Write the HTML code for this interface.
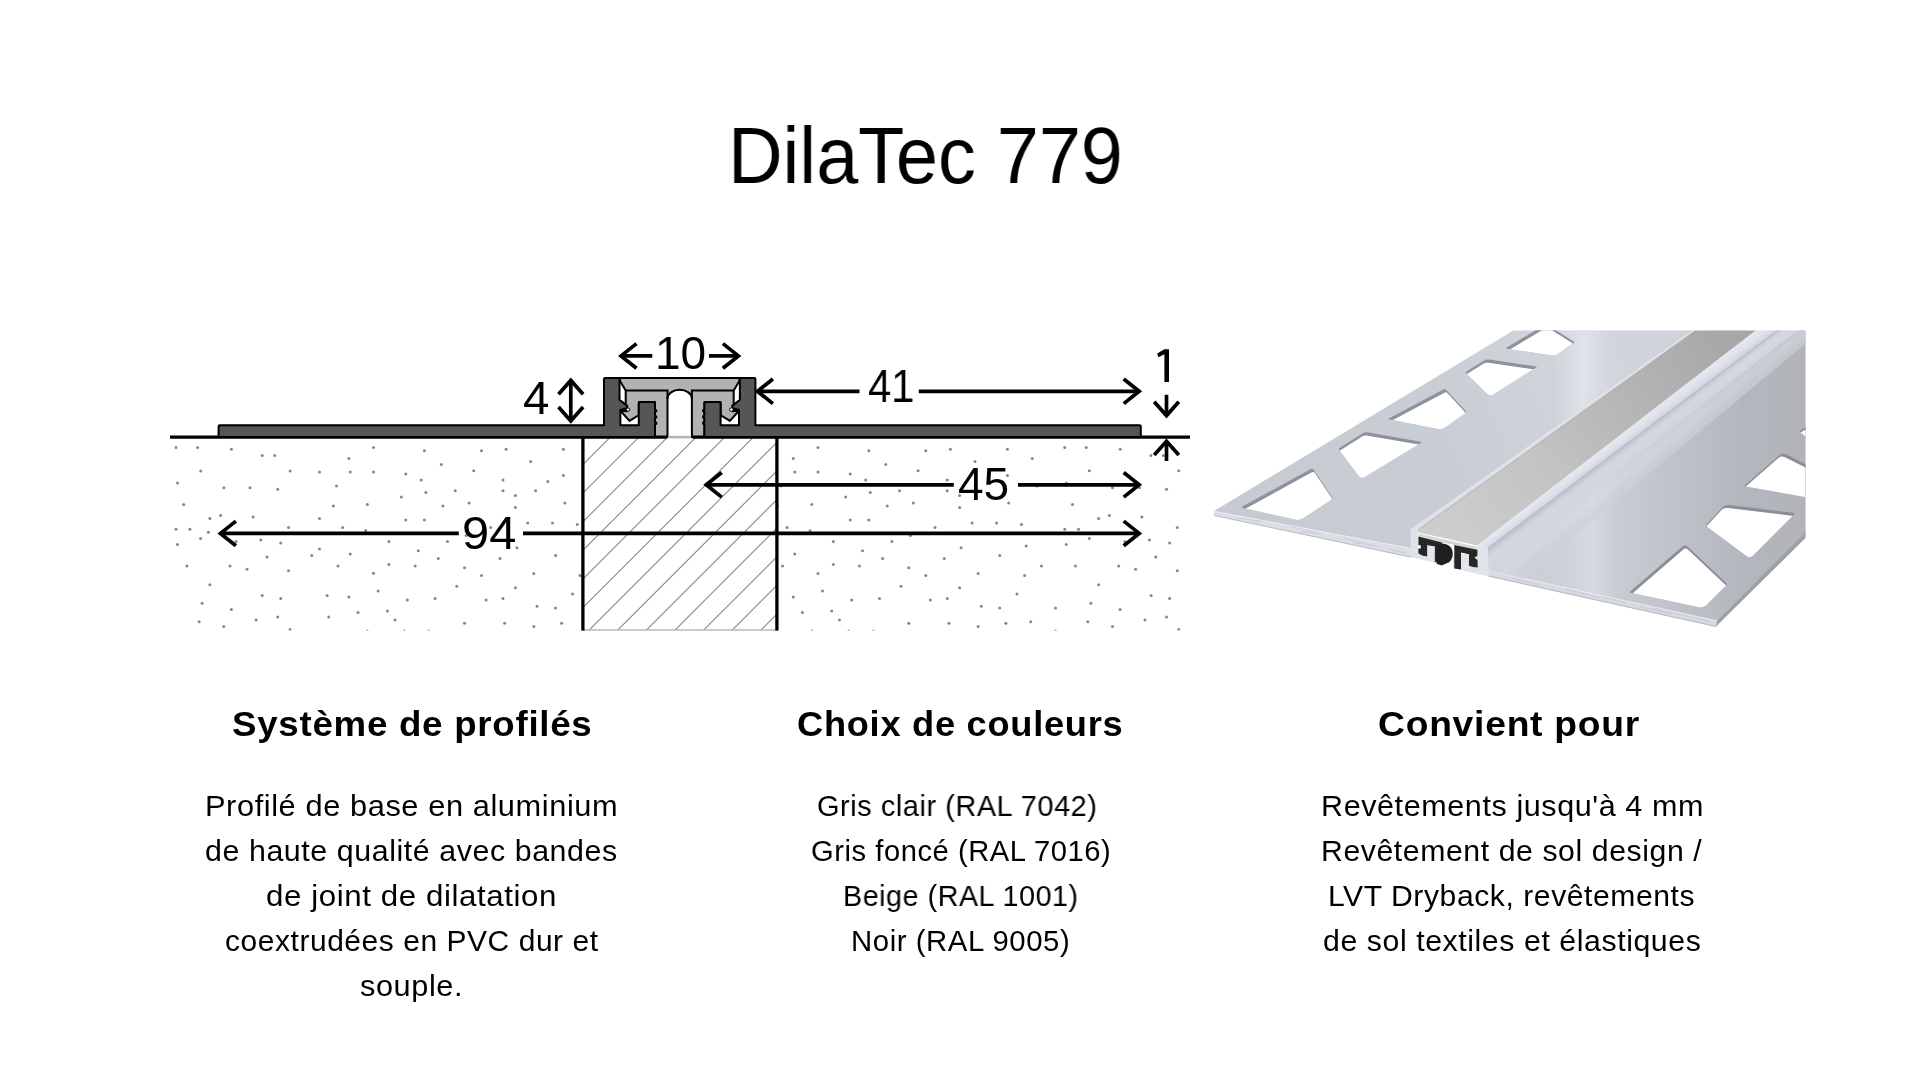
<!DOCTYPE html>
<html lang="fr"><head><meta charset="utf-8">
<title>DilaTec 779</title>
<style>
html,body{margin:0;padding:0;background:#fff;}
body{width:1920px;height:1080px;position:relative;overflow:hidden;
 font-family:"Liberation Sans",sans-serif;color:#000;}
svg.gfx{position:absolute;left:0;top:0;width:1920px;height:1080px;display:block;}

.t{position:absolute;white-space:nowrap;line-height:1;transform-origin:0 0;margin:0;font-weight:400;letter-spacing:0.55px;will-change:transform;}
.b{font-weight:700;letter-spacing:0.7px;}
#title,.d{letter-spacing:0;}
</style></head><body>
<svg class="gfx" viewBox="0 0 1920 1080" font-family="Liberation Sans, sans-serif">
<g id="drawing">
<clipPath id="dc"><rect x="160" y="438" width="1040" height="192.6"/></clipPath>
<g clip-path="url(#dc)" fill="#878787"><circle cx="176" cy="447.62" r="1.5"/><circle cx="197.62" cy="447.62" r="1.5"/><circle cx="231.38" cy="449.25" r="1.5"/><circle cx="262.25" cy="455.38" r="1.5"/><circle cx="274.75" cy="455.38" r="1.5"/><circle cx="373.5" cy="447.62" r="1.5"/><circle cx="348.88" cy="458.38" r="1.5"/><circle cx="200.75" cy="470.88" r="1.5"/><circle cx="290.12" cy="470.88" r="1.5"/><circle cx="319.5" cy="472.12" r="1.5"/><circle cx="350.25" cy="472.12" r="1.5"/><circle cx="373.5" cy="472.12" r="1.5"/><circle cx="405.75" cy="473.88" r="1.5"/><circle cx="177.5" cy="483.12" r="1.5"/><circle cx="223.88" cy="487.75" r="1.5"/><circle cx="250" cy="487.75" r="1.5"/><circle cx="277.75" cy="489.25" r="1.5"/><circle cx="336.5" cy="486.12" r="1.5"/><circle cx="401.38" cy="496.88" r="1.5"/><circle cx="183.62" cy="504.62" r="1.5"/><circle cx="333.38" cy="506.12" r="1.5"/><circle cx="367.38" cy="504.62" r="1.5"/><circle cx="220.62" cy="515.38" r="1.5"/><circle cx="209.88" cy="518.38" r="1.5"/><circle cx="253.12" cy="516.88" r="1.5"/><circle cx="319.5" cy="518.38" r="1.5"/><circle cx="405.75" cy="520" r="1.5"/><circle cx="176" cy="529.25" r="1.5"/><circle cx="189.88" cy="529.25" r="1.5"/><circle cx="208.38" cy="532.25" r="1.5"/><circle cx="288.5" cy="527.62" r="1.5"/><circle cx="342.62" cy="527.62" r="1.5"/><circle cx="365.75" cy="530.5" r="1.5"/><circle cx="200.62" cy="538.5" r="1.5"/><circle cx="177.5" cy="544.62" r="1.5"/><circle cx="236.12" cy="541.5" r="1.5"/><circle cx="260.75" cy="540" r="1.5"/><circle cx="280.75" cy="543.12" r="1.5"/><circle cx="388.88" cy="541.5" r="1.5"/><circle cx="319.5" cy="549.12" r="1.5"/><circle cx="311.75" cy="555.38" r="1.5"/><circle cx="267" cy="556.88" r="1.5"/><circle cx="350.25" cy="553.88" r="1.5"/><circle cx="186.88" cy="566.12" r="1.5"/><circle cx="230" cy="566.12" r="1.5"/><circle cx="247" cy="569.25" r="1.5"/><circle cx="288.5" cy="570.75" r="1.5"/><circle cx="338" cy="566.12" r="1.5"/><circle cx="388.88" cy="564.62" r="1.5"/><circle cx="373.5" cy="573.31" r="1.5"/><circle cx="424.38" cy="450.75" r="1.5"/><circle cx="481.5" cy="450.75" r="1.5"/><circle cx="506.12" cy="449.25" r="1.5"/><circle cx="563.38" cy="449.25" r="1.5"/><circle cx="441.38" cy="464.62" r="1.5"/><circle cx="530.75" cy="461.5" r="1.5"/><circle cx="473.75" cy="470.75" r="1.5"/><circle cx="563.38" cy="475.38" r="1.5"/><circle cx="421.25" cy="480" r="1.5"/><circle cx="503" cy="480" r="1.5"/><circle cx="547.88" cy="481.5" r="1.5"/><circle cx="425.88" cy="492.38" r="1.5"/><circle cx="455.25" cy="490.75" r="1.5"/><circle cx="503" cy="490.75" r="1.5"/><circle cx="535.62" cy="490.75" r="1.5"/><circle cx="515.38" cy="495.38" r="1.5"/><circle cx="469.12" cy="503.12" r="1.5"/><circle cx="564.88" cy="503.12" r="1.5"/><circle cx="442.88" cy="506.12" r="1.5"/><circle cx="515.38" cy="507.62" r="1.5"/><circle cx="424.38" cy="520" r="1.5"/><circle cx="527.75" cy="523.12" r="1.5"/><circle cx="552.5" cy="523.12" r="1.5"/><circle cx="577.25" cy="524.62" r="1.5"/><circle cx="490.75" cy="527.62" r="1.5"/><circle cx="466.12" cy="535.38" r="1.5"/><circle cx="447.5" cy="541.5" r="1.5"/><circle cx="516.88" cy="547.75" r="1.5"/><circle cx="418.25" cy="550.75" r="1.5"/><circle cx="555.62" cy="555.38" r="1.5"/><circle cx="438.25" cy="558.5" r="1.5"/><circle cx="500" cy="558.5" r="1.5"/><circle cx="415.12" cy="566.12" r="1.5"/><circle cx="464.5" cy="567.75" r="1.5"/><circle cx="533.81" cy="573.5" r="1.5"/><circle cx="209.88" cy="584.75" r="1.5"/><circle cx="378.12" cy="590.88" r="1.5"/><circle cx="262.25" cy="595.5" r="1.5"/><circle cx="327.12" cy="595.5" r="1.5"/><circle cx="280.75" cy="598.62" r="1.5"/><circle cx="348.88" cy="597" r="1.5"/><circle cx="407.38" cy="600.12" r="1.5"/><circle cx="202.12" cy="603.25" r="1.5"/><circle cx="231.38" cy="609.38" r="1.5"/><circle cx="387.38" cy="610.88" r="1.5"/><circle cx="358" cy="612.5" r="1.5"/><circle cx="277.75" cy="617.12" r="1.5"/><circle cx="328.75" cy="617.12" r="1.5"/><circle cx="256.12" cy="620.12" r="1.5"/><circle cx="395" cy="620.12" r="1.5"/><circle cx="199.12" cy="621.75" r="1.5"/><circle cx="223.75" cy="626.38" r="1.5"/><circle cx="290" cy="629.38" r="1.5"/><circle cx="367.25" cy="631" r="1.5"/><circle cx="404.38" cy="631" r="1.5"/><circle cx="481.5" cy="575.5" r="1.5"/><circle cx="580" cy="575.5" r="1.5"/><circle cx="456.75" cy="586.25" r="1.5"/><circle cx="515.38" cy="587.75" r="1.5"/><circle cx="572.5" cy="594" r="1.5"/><circle cx="435.12" cy="598.62" r="1.5"/><circle cx="486.12" cy="600.12" r="1.5"/><circle cx="503" cy="598.62" r="1.5"/><circle cx="537" cy="606.25" r="1.5"/><circle cx="555.5" cy="607.88" r="1.5"/><circle cx="464.5" cy="623.25" r="1.5"/><circle cx="504.62" cy="623.25" r="1.5"/><circle cx="561.62" cy="623.25" r="1.5"/><circle cx="533.88" cy="626.38" r="1.5"/><circle cx="428.75" cy="631" r="1.5"/><circle cx="818" cy="447.62" r="1.5"/><circle cx="868.75" cy="450.75" r="1.5"/><circle cx="925.75" cy="450.75" r="1.5"/><circle cx="950.38" cy="449.25" r="1.5"/><circle cx="1007.38" cy="449.25" r="1.5"/><circle cx="793.25" cy="458.38" r="1.5"/><circle cx="975" cy="461.5" r="1.5"/><circle cx="885.75" cy="464.62" r="1.5"/><circle cx="918.12" cy="470.75" r="1.5"/><circle cx="794.75" cy="472.12" r="1.5"/><circle cx="818" cy="472.12" r="1.5"/><circle cx="850.25" cy="473.88" r="1.5"/><circle cx="1007.38" cy="475.38" r="1.5"/><circle cx="865.62" cy="480" r="1.5"/><circle cx="947.25" cy="480" r="1.5"/><circle cx="781" cy="486.12" r="1.5"/><circle cx="899.5" cy="490.75" r="1.5"/><circle cx="947.25" cy="490.75" r="1.5"/><circle cx="870.25" cy="492.38" r="1.5"/><circle cx="845.62" cy="496.88" r="1.5"/><circle cx="959.62" cy="495.38" r="1.5"/><circle cx="913.38" cy="503.12" r="1.5"/><circle cx="1008.69" cy="503.12" r="1.5"/><circle cx="811.75" cy="504.62" r="1.5"/><circle cx="777.5" cy="506.12" r="1.5"/><circle cx="887.25" cy="506.12" r="1.5"/><circle cx="959.62" cy="507.62" r="1.5"/><circle cx="850.25" cy="520" r="1.5"/><circle cx="868.75" cy="520" r="1.5"/><circle cx="972.12" cy="523.12" r="1.5"/><circle cx="996.62" cy="523.12" r="1.5"/><circle cx="787.12" cy="527.62" r="1.5"/><circle cx="935" cy="527.62" r="1.5"/><circle cx="810.12" cy="530.75" r="1.5"/><circle cx="910.38" cy="535.38" r="1.5"/><circle cx="833.38" cy="541.5" r="1.5"/><circle cx="891.88" cy="541.5" r="1.5"/><circle cx="961.12" cy="547.75" r="1.5"/><circle cx="862.5" cy="550.75" r="1.5"/><circle cx="794.75" cy="553.88" r="1.5"/><circle cx="999.75" cy="555.38" r="1.5"/><circle cx="882.62" cy="558.5" r="1.5"/><circle cx="944.25" cy="558.5" r="1.5"/><circle cx="833.38" cy="564.62" r="1.5"/><circle cx="782.5" cy="566.12" r="1.5"/><circle cx="859.5" cy="566.12" r="1.5"/><circle cx="908.75" cy="567.75" r="1.5"/><circle cx="818" cy="573.5" r="1.5"/><circle cx="978.12" cy="573.5" r="1.5"/><circle cx="1064.75" cy="447.62" r="1.5"/><circle cx="1086.25" cy="447.62" r="1.5"/><circle cx="1120.25" cy="449.25" r="1.5"/><circle cx="1032.25" cy="458.38" r="1.5"/><circle cx="1151" cy="455.38" r="1.5"/><circle cx="1163.38" cy="455.38" r="1.5"/><circle cx="1089.38" cy="470.75" r="1.5"/><circle cx="1178.75" cy="470.75" r="1.5"/><circle cx="1066.25" cy="483" r="1.5"/><circle cx="1036.88" cy="486.12" r="1.5"/><circle cx="1112.5" cy="487.75" r="1.5"/><circle cx="1139.5" cy="487.75" r="1.5"/><circle cx="1166.5" cy="489.25" r="1.5"/><circle cx="1072.5" cy="504.62" r="1.5"/><circle cx="1109.38" cy="515.38" r="1.5"/><circle cx="1098.62" cy="518.38" r="1.5"/><circle cx="1141.88" cy="516.88" r="1.5"/><circle cx="1021.5" cy="524.62" r="1.5"/><circle cx="1064.75" cy="529.25" r="1.5"/><circle cx="1078.5" cy="529.25" r="1.5"/><circle cx="1177.25" cy="527.62" r="1.5"/><circle cx="1089.38" cy="538.5" r="1.5"/><circle cx="1149.5" cy="540" r="1.5"/><circle cx="1124.88" cy="541.5" r="1.5"/><circle cx="1169.62" cy="543.12" r="1.5"/><circle cx="1026.12" cy="546.12" r="1.5"/><circle cx="1066.25" cy="544.62" r="1.5"/><circle cx="1155.75" cy="556.88" r="1.5"/><circle cx="1041.5" cy="566.12" r="1.5"/><circle cx="1075.5" cy="566.12" r="1.5"/><circle cx="1118.75" cy="566.12" r="1.5"/><circle cx="1135.62" cy="569.25" r="1.5"/><circle cx="1177.25" cy="570.75" r="1.5"/><circle cx="925.75" cy="575.5" r="1.5"/><circle cx="901" cy="586.25" r="1.5"/><circle cx="959.62" cy="587.75" r="1.5"/><circle cx="822.5" cy="590.88" r="1.5"/><circle cx="793.25" cy="597" r="1.5"/><circle cx="851.75" cy="600.12" r="1.5"/><circle cx="879.5" cy="598.62" r="1.5"/><circle cx="930.38" cy="600.12" r="1.5"/><circle cx="947.25" cy="598.62" r="1.5"/><circle cx="981.25" cy="606.25" r="1.5"/><circle cx="999.75" cy="607.88" r="1.5"/><circle cx="802.38" cy="612.5" r="1.5"/><circle cx="831.75" cy="610.88" r="1.5"/><circle cx="839.5" cy="620.12" r="1.5"/><circle cx="908.75" cy="623.25" r="1.5"/><circle cx="948.88" cy="623.25" r="1.5"/><circle cx="1005.88" cy="623.25" r="1.5"/><circle cx="978.12" cy="626.38" r="1.5"/><circle cx="811.75" cy="631" r="1.5"/><circle cx="848.75" cy="631" r="1.5"/><circle cx="873.38" cy="631" r="1.5"/><circle cx="1024.62" cy="575.5" r="1.5"/><circle cx="1098.62" cy="584.75" r="1.5"/><circle cx="1017" cy="594" r="1.5"/><circle cx="1151.12" cy="595.5" r="1.5"/><circle cx="1169.62" cy="598.62" r="1.5"/><circle cx="1090.88" cy="603.25" r="1.5"/><circle cx="1055.5" cy="607.88" r="1.5"/><circle cx="1120.12" cy="609.38" r="1.5"/><circle cx="1166.5" cy="617.12" r="1.5"/><circle cx="1145" cy="620.12" r="1.5"/><circle cx="1030.75" cy="621.75" r="1.5"/><circle cx="1087.75" cy="621.75" r="1.5"/><circle cx="1112.5" cy="626.38" r="1.5"/><circle cx="1178.75" cy="629.38" r="1.5"/><circle cx="1055.5" cy="631" r="1.5"/></g>
<clipPath id="jc"><rect x="582.9" y="437.1" width="194" height="192.9"/></clipPath>
<g clip-path="url(#jc)" stroke="#858585" stroke-width="1.05"><line x1="347.4" y1="700" x2="647.4" y2="400"/><line x1="376.03" y1="700" x2="676.03" y2="400"/><line x1="404.66" y1="700" x2="704.66" y2="400"/><line x1="433.29" y1="700" x2="733.29" y2="400"/><line x1="461.92" y1="700" x2="761.92" y2="400"/><line x1="490.55" y1="700" x2="790.55" y2="400"/><line x1="519.18" y1="700" x2="819.18" y2="400"/><line x1="547.81" y1="700" x2="847.81" y2="400"/><line x1="576.44" y1="700" x2="876.44" y2="400"/><line x1="605.07" y1="700" x2="905.07" y2="400"/><line x1="633.7" y1="700" x2="933.7" y2="400"/><line x1="662.33" y1="700" x2="962.33" y2="400"/><line x1="690.96" y1="700" x2="990.96" y2="400"/></g>
<line x1="582.9" y1="630" x2="776.9" y2="630" stroke="#b8b8b8" stroke-width="1.3"/>
<g stroke="#000" stroke-width="3.3"><line x1="582.9" y1="437.1" x2="582.9" y2="630.6"/><line x1="776.9" y1="437.1" x2="776.9" y2="630.6"/></g>
<path d="M679.7,377.9 L619.6,377.9 L620.2,381.2 L625.7,390.4 L625.7,405 L626.6,411.3 L620.2,410.5 L629.5,420.9 L638.8,415.2 L638.8,401.9 L655,401.9 L655,436.9 L667.5,436.9 L667.5,398.4 A12.2,8.6 0 0 1 691.9,398.4 L691.9,436.9 L704.4,436.9 L704.4,401.9 L720.6,401.9 L720.6,415.2 L729.9,420.9 L739.2,410.5 L732.8,411.3 L733.7,405 L733.7,390.4 L739.2,381.2 L739.8,377.9 Z" fill="#b2b2b2" stroke="#000" stroke-width="2" stroke-linejoin="round"/>
<path d="M625.7,390.4 H667.5 V399 M733.7,390.4 H691.9 V399" stroke="#000" stroke-width="2" fill="none" stroke-linejoin="miter"/>
<line x1="668.6" y1="437.1" x2="690.8" y2="437.1" stroke="#b4b4b4" stroke-width="2.6"/>
<path d="M170,437.1 H667 M692.4,437.1 H1190" stroke="#000" stroke-width="3.3" fill="none"/>
<g fill="#565656" stroke="#000" stroke-width="2" stroke-linejoin="round">
<path d="M218.6,437 L218.6,426.3 Q218.6,425.2 219.7,425.2 L604,425.2 L604,379 Q604,377.9 605.1,377.9 L619.5,377.9 L619.5,399.7 L627.3,405.9 L626.2,408.6 L620.4,409.9 L620.4,425.2 L638.8,425.2 L638.8,404.2 Q638.8,401.9 641.1,401.9 L652.7,401.9 Q655,401.9 655,404.2 L655,409.6 l1.3,0.5 v1.2 l-1.3,0.5 L655,415.9 l1.3,0.5 v1.2 l-1.3,0.5 L655,422.2 l1.3,0.5 v1.2 l-1.3,0.5 L655,437 Z"/>
<path d="M218.6,437 L218.6,426.3 Q218.6,425.2 219.7,425.2 L604,425.2 L604,379 Q604,377.9 605.1,377.9 L619.5,377.9 L619.5,399.7 L627.3,405.9 L626.2,408.6 L620.4,409.9 L620.4,425.2 L638.8,425.2 L638.8,404.2 Q638.8,401.9 641.1,401.9 L652.7,401.9 Q655,401.9 655,404.2 L655,409.6 l1.3,0.5 v1.2 l-1.3,0.5 L655,415.9 l1.3,0.5 v1.2 l-1.3,0.5 L655,422.2 l1.3,0.5 v1.2 l-1.3,0.5 L655,437 Z" transform="translate(1359.4,0) scale(-1,1)"/>
</g>
<g fill="#fff" stroke="#000" stroke-width="1"><circle cx="628" cy="409.6" r="1.75"/><circle cx="731.4" cy="409.6" r="1.75"/></g>
<g fill="none" stroke="#000" stroke-width="3.7" stroke-linejoin="miter" stroke-miterlimit="6">
<line x1="220.3" y1="533.4" x2="458.8" y2="533.4"/><line x1="523" y1="533.4" x2="1139.3" y2="533.4"/><polyline points="235.9,521.1 220.4,533.4 235.9,545.7"/><polyline points="1123.7,521.1 1139.2,533.4 1123.7,545.7"/>
<line x1="706.1" y1="484.8" x2="953.8" y2="484.8"/><line x1="1018" y1="484.8" x2="1139.3" y2="484.8"/><polyline points="721.7,472.5 706.2,484.8 721.7,497.1"/><polyline points="1123.7,472.5 1139.2,484.8 1123.7,497.1"/>
<line x1="757.3" y1="391.3" x2="859.5" y2="391.3"/><line x1="918.8" y1="391.3" x2="1139.3" y2="391.3"/><polyline points="772.9,379 757.4,391.3 772.9,403.6"/><polyline points="1123.7,379 1139.2,391.3 1123.7,403.6"/>
<line x1="620.9" y1="355.9" x2="652.3" y2="355.9"/><polyline points="636.5,343.6 621,355.9 636.5,368.2"/>
<line x1="709" y1="355.9" x2="738.5" y2="355.9"/><polyline points="722.9,343.6 738.4,355.9 722.9,368.2"/>
<line x1="570.8" y1="380" x2="570.8" y2="421.4"/><polyline points="558.5,394.3 570.8,380.4 583.1,394.3"/><polyline points="558.5,407.1 570.8,421 583.1,407.1"/>
<line x1="1166.5" y1="394.8" x2="1166.5" y2="416"/><polyline points="1154.2,401.7 1166.5,415.6 1178.8,401.7"/>
<line x1="1166.5" y1="440.8" x2="1166.5" y2="461"/><polyline points="1154.2,455.1 1166.5,441.2 1178.8,455.1"/>
</g>
<path d="M1164.4,349.2 H1169 V382 H1164.4 V354.2 L1158.4,357.2 L1157.2,353.6 Z" fill="#000"/>
</g>
<g id="product">
<defs>
<clipPath id="pc"><rect x="1200" y="330.2" width="605.6" height="320"/></clipPath>
<linearGradient id="gLF" gradientUnits="userSpaceOnUse" x1="1250" y1="520" x2="1690" y2="330"><stop offset="0" stop-color="#c6cad1"/><stop offset="0.45" stop-color="#c9cdd4"/><stop offset="0.78" stop-color="#d2d5dc"/><stop offset="1" stop-color="#cfd2d8"/></linearGradient>
<linearGradient id="gStreak" gradientUnits="userSpaceOnUse" x1="1555" y1="0" x2="1612" y2="0"><stop offset="0" stop-color="#e2e5ec" stop-opacity="0"/><stop offset="0.5" stop-color="#e4e7ee" stop-opacity="0.75"/><stop offset="1" stop-color="#e2e5ec" stop-opacity="0"/></linearGradient>
<linearGradient id="gIns" gradientUnits="userSpaceOnUse" x1="1448" y1="538" x2="1726" y2="330"><stop offset="0" stop-color="#cdcdcd"/><stop offset="0.35" stop-color="#c3c3c3"/><stop offset="0.7" stop-color="#b3b3b3"/><stop offset="1" stop-color="#a7a7a7"/></linearGradient>
<linearGradient id="gRF" gradientUnits="userSpaceOnUse" x1="1500" y1="0" x2="1805" y2="0"><stop offset="0" stop-color="#cbced4"/><stop offset="0.2" stop-color="#cdd0d6"/><stop offset="0.30" stop-color="#d6d9df"/><stop offset="0.39" stop-color="#c8cbd1"/><stop offset="0.6" stop-color="#bec1c8"/><stop offset="0.8" stop-color="#b4b6bd"/><stop offset="1" stop-color="#b2b4ba"/></linearGradient>
<linearGradient id="gRidge" gradientUnits="userSpaceOnUse" x1="1560" y1="440" x2="1600" y2="490"><stop offset="0" stop-color="#e0e3ec"/><stop offset="0.55" stop-color="#d3d6e1"/><stop offset="1" stop-color="#bcc0cd"/></linearGradient>
</defs>
<g clip-path="url(#pc)">
<polygon points="1213.75,511.25 1513.75,330.2 1693,330.2 1410.8,529.6 1411,548.5" fill="url(#gLF)"/>
<clipPath id="lfc"><polygon points="1213.75,511.25 1513.75,330.2 1693,330.2 1410.8,529.6 1411,548.5"/></clipPath>
<g clip-path="url(#lfc)"><rect x="1555" y="330.2" width="57" height="120" fill="url(#gStreak)"/></g>
<polygon points="1213.75,511.25 1411,548.5 1411,557.45 1213.9,515.7" fill="#dcdee5"/>
<polyline points="1213.75,511.25 1411,548.5" fill="none" stroke="#e9ebf0" stroke-width="1"/>
<polyline points="1214.2,515.5 1411,557.15" fill="none" stroke="#b4b7c2" stroke-width="0.9"/>
<g stroke="#bfc2cc" stroke-width="1.1" opacity="0.55" fill="none"><path d="M1238,518.2 L1262,521.4 M1290,526.2 L1322,533.8 M1301,531.4 L1318,534.2 M1344,538.4 L1371,545.2 M1352,542.4 L1380,546.4 M1388,548.8 L1406,553.4"/></g>
<clipPath id="hc0"><path d="M1243.04,508.04 Q1240.6,507.5 1242.79,506.3 L1310.75,469.06 Q1312.5,468.1 1313.62,469.76 L1332.26,497.51 Q1333.1,498.75 1331.85,499.58 L1303.76,518.12 Q1300,520.6 1295.61,519.63 Z"/></clipPath><path d="M1243.04,508.04 Q1240.6,507.5 1242.79,506.3 L1310.75,469.06 Q1312.5,468.1 1313.62,469.76 L1332.26,497.51 Q1333.1,498.75 1331.85,499.58 L1303.76,518.12 Q1300,520.6 1295.61,519.63 Z" fill="#8e929e"/><g clip-path="url(#hc0)"><path d="M1243.04,508.04 Q1240.6,507.5 1242.79,506.3 L1310.75,469.06 Q1312.5,468.1 1313.62,469.76 L1332.26,497.51 Q1333.1,498.75 1331.85,499.58 L1303.76,518.12 Q1300,520.6 1295.61,519.63 Z" fill="#fff" transform="translate(1.2,3.2)"/></g>
<clipPath id="hc1"><path d="M1339.31,450.35 Q1338.1,448.75 1339.79,447.69 L1362.03,433.76 Q1365,431.9 1368.45,432.5 L1421.02,441.64 Q1422.5,441.9 1421.22,442.68 L1365.09,477.05 Q1361.25,479.4 1358.54,475.81 Z"/></clipPath><path d="M1339.31,450.35 Q1338.1,448.75 1339.79,447.69 L1362.03,433.76 Q1365,431.9 1368.45,432.5 L1421.02,441.64 Q1422.5,441.9 1421.22,442.68 L1365.09,477.05 Q1361.25,479.4 1358.54,475.81 Z" fill="#8e929e"/><g clip-path="url(#hc1)"><path d="M1339.31,450.35 Q1338.1,448.75 1339.79,447.69 L1362.03,433.76 Q1365,431.9 1368.45,432.5 L1421.02,441.64 Q1422.5,441.9 1421.22,442.68 L1365.09,477.05 Q1361.25,479.4 1358.54,475.81 Z" fill="#fff" transform="translate(-0.6,3.2)"/></g>
<clipPath id="hc2"><path d="M1389.46,419.48 Q1387.5,419.1 1389.27,418.16 L1443.23,389.44 Q1445,388.5 1446.36,389.97 L1465.88,411.15 Q1466.9,412.25 1465.67,413.11 L1445.18,427.46 Q1441.9,429.75 1437.97,428.98 Z"/></clipPath><path d="M1389.46,419.48 Q1387.5,419.1 1389.27,418.16 L1443.23,389.44 Q1445,388.5 1446.36,389.97 L1465.88,411.15 Q1466.9,412.25 1465.67,413.11 L1445.18,427.46 Q1441.9,429.75 1437.97,428.98 Z" fill="#8e929e"/><g clip-path="url(#hc2)"><path d="M1389.46,419.48 Q1387.5,419.1 1389.27,418.16 L1443.23,389.44 Q1445,388.5 1446.36,389.97 L1465.88,411.15 Q1466.9,412.25 1465.67,413.11 L1445.18,427.46 Q1441.9,429.75 1437.97,428.98 Z" fill="#fff" transform="translate(1.2,3.2)"/></g>
<clipPath id="hc3"><path d="M1466.43,373.65 Q1465,372.25 1466.7,371.2 L1483.7,360.68 Q1486.25,359.1 1489.22,359.53 L1536.02,366.38 Q1537.5,366.6 1536.23,367.4 L1493.38,394.46 Q1490,396.6 1487.13,393.81 Z"/></clipPath><path d="M1466.43,373.65 Q1465,372.25 1466.7,371.2 L1483.7,360.68 Q1486.25,359.1 1489.22,359.53 L1536.02,366.38 Q1537.5,366.6 1536.23,367.4 L1493.38,394.46 Q1490,396.6 1487.13,393.81 Z" fill="#8e929e"/><g clip-path="url(#hc3)"><path d="M1466.43,373.65 Q1465,372.25 1466.7,371.2 L1483.7,360.68 Q1486.25,359.1 1489.22,359.53 L1536.02,366.38 Q1537.5,366.6 1536.23,367.4 L1493.38,394.46 Q1490,396.6 1487.13,393.81 Z" fill="#fff" transform="translate(-0.6,3.2)"/></g>
<clipPath id="hc4"><path d="M1506.98,348.8 Q1505,348.5 1506.72,347.47 L1544.28,325.03 Q1546,324 1547.69,325.07 L1573.73,341.45 Q1575,342.25 1573.76,343.1 L1557.88,354.02 Q1555,356 1551.54,355.48 Z"/></clipPath><path d="M1506.98,348.8 Q1505,348.5 1506.72,347.47 L1544.28,325.03 Q1546,324 1547.69,325.07 L1573.73,341.45 Q1575,342.25 1573.76,343.1 L1557.88,354.02 Q1555,356 1551.54,355.48 Z" fill="#8e929e"/><g clip-path="url(#hc4)"><path d="M1506.98,348.8 Q1505,348.5 1506.72,347.47 L1544.28,325.03 Q1546,324 1547.69,325.07 L1573.73,341.45 Q1575,342.25 1573.76,343.1 L1557.88,354.02 Q1555,356 1551.54,355.48 Z" fill="#fff" transform="translate(1.2,3.2)"/></g>
<polygon points="1410.8,529.6 1693,330.2 1696,330.2 1418,530" fill="#dde0e8"/>
<polygon points="1410.8,529.6 1418,530 1418,558.8 1411,557.25" fill="#e0e2ea"/>
<polygon points="1418.5,532.4 1418,530 1696,330.2 1756.5,330.2 1477.5,545.5" fill="url(#gIns)"/>
<polyline points="1418,530 1696,330.2" fill="none" stroke="#9a9a9a" stroke-width="0.8" opacity="0.8"/>
<polyline points="1477.5,545.5 1756.5,330.2" fill="none" stroke="#e6e6e6" stroke-width="1" opacity="0.9"/>
<polygon points="1418.5,533.6 1477.4,547 1477.3,549.7 1454.3,545 1442,542.6 1418.5,536.6" fill="#d6d6d6"/>
<polygon points="1488.3,570.8 1797.5,330.2 1825.6,330.2 1825.6,512.5 1716.7,620.8" fill="url(#gRF)"/>
<polygon points="1716.7,620.8 1825.6,511.9 1825.6,518 1715.8,626.8" fill="#9da0a9"/>
<polygon points="1488.3,570.8 1716.7,620.8 1715.8,626.8 1488.3,576.36" fill="#d8dae1"/>
<polyline points="1488.3,570.8 1716.7,620.8" fill="none" stroke="#e8eaef" stroke-width="1"/>
<polyline points="1488.3,576.06 1715.8,626.5" fill="none" stroke="#b0b3be" stroke-width="0.9"/>
<g stroke="#bfc2cc" stroke-width="1.1" opacity="0.55" fill="none"><path d="M1512,578.6 L1540,585 M1566,589.4 L1600,597.8 M1604,597.4 L1626,602.6 M1640,606.6 L1672,614.4 M1655,608.4 L1690,617 M1694,617.2 L1710,621.6"/></g>
<clipPath id="hc10"><path d="M1630.67,592.81 Q1629.2,592.5 1630.33,591.52 L1682.35,546.49 Q1685,544.2 1687.55,546.6 L1726.04,582.83 Q1727.5,584.2 1726.08,585.61 L1706.49,605.12 Q1703.3,608.3 1698.9,607.36 Z"/></clipPath><path d="M1630.67,592.81 Q1629.2,592.5 1630.33,591.52 L1682.35,546.49 Q1685,544.2 1687.55,546.6 L1726.04,582.83 Q1727.5,584.2 1726.08,585.61 L1706.49,605.12 Q1703.3,608.3 1698.9,607.36 Z" fill="#8a8e99"/><g clip-path="url(#hc10)"><path d="M1630.67,592.81 Q1629.2,592.5 1630.33,591.52 L1682.35,546.49 Q1685,544.2 1687.55,546.6 L1726.04,582.83 Q1727.5,584.2 1726.08,585.61 L1706.49,605.12 Q1703.3,608.3 1698.9,607.36 Z" fill="#fff" transform="translate(0.6,3.2)"/></g>
<clipPath id="hc11"><path d="M1706.7,526.4 Q1705.5,525.5 1706.52,524.4 L1722.28,507.43 Q1725,504.5 1728.97,504.98 L1792.52,512.64 Q1795.5,513 1793.38,515.13 L1753.17,555.56 Q1750,558.75 1746.4,556.06 Z"/></clipPath><path d="M1706.7,526.4 Q1705.5,525.5 1706.52,524.4 L1722.28,507.43 Q1725,504.5 1728.97,504.98 L1792.52,512.64 Q1795.5,513 1793.38,515.13 L1753.17,555.56 Q1750,558.75 1746.4,556.06 Z" fill="#8a8e99"/><g clip-path="url(#hc11)"><path d="M1706.7,526.4 Q1705.5,525.5 1706.52,524.4 L1722.28,507.43 Q1725,504.5 1728.97,504.98 L1792.52,512.64 Q1795.5,513 1793.38,515.13 L1753.17,555.56 Q1750,558.75 1746.4,556.06 Z" fill="#fff" transform="translate(-1.2,3)"/></g>
<clipPath id="hc12"><path d="M1745.23,486.51 Q1743.75,486.25 1744.88,485.26 L1779.86,454.8 Q1782.5,452.5 1785.64,454.05 L1838.21,480.11 Q1840,481 1838.62,482.45 L1824.75,497.1 Q1822,500 1818.06,499.31 Z"/></clipPath><path d="M1745.23,486.51 Q1743.75,486.25 1744.88,485.26 L1779.86,454.8 Q1782.5,452.5 1785.64,454.05 L1838.21,480.11 Q1840,481 1838.62,482.45 L1824.75,497.1 Q1822,500 1818.06,499.31 Z" fill="#8a8e99"/><g clip-path="url(#hc12)"><path d="M1745.23,486.51 Q1743.75,486.25 1744.88,485.26 L1779.86,454.8 Q1782.5,452.5 1785.64,454.05 L1838.21,480.11 Q1840,481 1838.62,482.45 L1824.75,497.1 Q1822,500 1818.06,499.31 Z" fill="#fff" transform="translate(-1.2,3)"/></g>
<clipPath id="hc13"><path d="M1799.76,431.65 Q1799,431 1799.88,430.53 L1811.12,424.47 Q1812,424 1812.75,424.66 L1829.25,439.34 Q1830,440 1829.01,440.11 L1812.99,441.89 Q1812,442 1811.24,441.35 Z"/></clipPath><path d="M1799.76,431.65 Q1799,431 1799.88,430.53 L1811.12,424.47 Q1812,424 1812.75,424.66 L1829.25,439.34 Q1830,440 1829.01,440.11 L1812.99,441.89 Q1812,442 1811.24,441.35 Z" fill="#8a8e99"/><g clip-path="url(#hc13)"><path d="M1799.76,431.65 Q1799,431 1799.88,430.53 L1811.12,424.47 Q1812,424 1812.75,424.66 L1829.25,439.34 Q1830,440 1829.01,440.11 L1812.99,441.89 Q1812,442 1811.24,441.35 Z" fill="#fff" transform="translate(-1.2,3)"/></g>
<polygon points="1488.3,570.8 1797.5,330.2 1800.81,330.2 1492.98,571.84" fill="#d4d7df" opacity="0.55"/><polygon points="1491.77,571.57 1799.95,330.2 1803.26,330.2 1496.45,572.61" fill="#d6d9e1" opacity="0.55"/><polygon points="1495.24,572.34 1802.4,330.2 1805.71,330.2 1499.92,573.38" fill="#d7dae2" opacity="0.55"/><polygon points="1498.71,573.11 1804.85,330.2 1808.16,330.2 1503.39,574.15" fill="#d9dce4" opacity="0.55"/><polygon points="1502.18,573.88 1807.3,330.2 1810.61,330.2 1506.86,574.92" fill="#d7dae2" opacity="0.55"/><polygon points="1505.65,574.65 1809.75,330.2 1813.06,330.2 1510.33,575.69" fill="#d5d8df" opacity="0.55"/><polygon points="1509.12,575.42 1812.2,330.2 1815.51,330.2 1513.8,576.46" fill="#d3d6dd" opacity="0.55"/><polygon points="1512.59,576.19 1814.65,330.2 1817.96,330.2 1517.27,577.23" fill="#d1d4db" opacity="0.55"/><polygon points="1516.06,576.96 1817.1,330.2 1820.41,330.2 1520.74,578" fill="#d0d2da" opacity="0.55"/><polygon points="1519.53,577.73 1819.55,330.2 1822,330.2 1523,578.5" fill="#ced1d8" opacity="0.55"/><polygon points="1477.5,545.5 1756.5,330.2 1760.89,330.2 1479.77,546.02" fill="#e5e7ee"/><polygon points="1479.18,545.88 1759.75,330.2 1764.14,330.2 1481.46,546.4" fill="#e2e5ec"/><polygon points="1480.87,546.27 1763,330.2 1767.39,330.2 1483.14,546.78" fill="#e0e3eb"/><polygon points="1482.55,546.65 1766.25,330.2 1770.64,330.2 1484.82,547.17" fill="#dde0e8"/><polygon points="1484.23,547.03 1769.5,330.2 1773.89,330.2 1486.51,547.55" fill="#d8dce5"/><polygon points="1485.92,547.42 1772.75,330.2 1776,330.2 1487.6,547.8" fill="#d4d7e2"/><polygon points="1487.6,547.8 1776,330.2 1778.42,330.2 1487.68,550.39" fill="#b7bbc8"/><polygon points="1487.66,549.72 1777.79,330.2 1780.21,330.2 1487.74,552.3" fill="#c0c4d0"/><polygon points="1487.72,551.63 1779.58,330.2 1782,330.2 1487.8,554.22" fill="#c6cad6"/><polygon points="1487.77,553.55 1781.38,330.2 1783.79,330.2 1487.85,556.14" fill="#cccfda"/><polygon points="1487.83,555.47 1783.17,330.2 1785.59,330.2 1487.91,558.05" fill="#d1d4df"/><polygon points="1487.89,557.38 1784.96,330.2 1787.38,330.2 1487.97,559.97" fill="#d3d6e0"/><polygon points="1487.95,559.3 1786.75,330.2 1789.17,330.2 1488.03,561.89" fill="#d3d6e0"/><polygon points="1488.01,561.22 1788.54,330.2 1790.96,330.2 1488.09,563.8" fill="#d3d6df"/><polygon points="1488.07,563.13 1790.33,330.2 1792.75,330.2 1488.15,565.72" fill="#d3d6df"/><polygon points="1488.12,565.05 1792.12,330.2 1794.54,330.2 1488.2,567.64" fill="#d3d6df"/><polygon points="1488.18,566.97 1793.92,330.2 1796.34,330.2 1488.26,569.55" fill="#d2d4dd"/><polygon points="1488.24,568.88 1795.71,330.2 1797.5,330.2 1488.3,570.8" fill="#d0d3db"/>
<polygon points="1477.6,545.6 1487.6,547.8 1488.3,570.8 1488.3,576.36 1477.6,573.99" fill="#e1e4eb"/>
<polygon points="1418.2,550 1436,553.5 1436,563.28 1418.2,558.84" fill="#dfe2e9"/>
<polygon points="1453,556 1477.7,561 1477.7,574.01 1453,568.05" fill="#dfe2e9"/>
<polygon points="1418.4,536.6 1442,542.6 1442,561 1434.6,562.3 1434.6,546.6 1427.4,545.2 1427.4,556.4 1423,555.8 1418.4,553.4 1418.4,548.6 1420.8,548.4 1420.8,545.6 1418.4,545" fill="#262626"/>
<polygon points="1427.4,545.4 1434.6,546.8 1434.6,562.6 1427.4,561" fill="#e3e5ec"/>
<path d="M1436.4,545.5 C1440,541.5 1451.5,543 1452.6,552 C1453.2,557 1451,560.5 1449.5,562 L1441.6,565.6 L1436.6,563.8 Z" fill="#1f1f1f"/>
<polygon points="1454.3,545 1477.4,549.7 1477.7,567.6 1473,567 1468.9,565.8 1468.9,554.2 1461,552.6 1461,569.6 1454.3,568.4" fill="#262626"/>
<polygon points="1461.2,553.2 1468.6,554.6 1468.6,570.2 1461.2,569" fill="#e3e5ec"/>
<polygon points="1474.6,557.6 1477.7,555.4 1477.7,560.6" fill="#e9ebf0"/>
</g>
</g>
</svg>
<h1 class="t" id="title" style="left:727.63px;top:115.63px;font-size:79px;transform:scaleX(0.9566)">DilaTec 779</h1>
<h2 class="t b" id="h1" style="left:231.65px;top:706.12px;font-size:35px;transform:scaleX(1.0480)">Système de profilés</h2>
<p class="t" id="c1l1" style="left:204.56px;top:791.70px;font-size:29px;transform:scaleX(1.0613)">Profilé de base en aluminium</p>
<p class="t" id="c1l2" style="left:205.04px;top:836.70px;font-size:29px;transform:scaleX(1.0467)">de haute qualité avec bandes</p>
<p class="t" id="c1l3" style="left:266.25px;top:881.70px;font-size:29px;transform:scaleX(1.0777)">de joint de dilatation</p>
<p class="t" id="c1l4" style="left:224.52px;top:926.70px;font-size:29px;transform:scaleX(1.0323)">coextrudées en PVC dur et</p>
<p class="t" id="c1l5" style="left:360.13px;top:971.70px;font-size:29px;transform:scaleX(1.0586)">souple.</p>
<h2 class="t b" id="h2" style="left:797.30px;top:706.12px;font-size:35px;transform:scaleX(1.0352)">Choix de couleurs</h2>
<p class="t" id="c2l1" style="left:816.60px;top:791.70px;font-size:29px;transform:scaleX(0.9974)">Gris clair (RAL 7042)</p>
<p class="t" id="c2l2" style="left:810.59px;top:836.70px;font-size:29px;transform:scaleX(1.0046)">Gris foncé (RAL 7016)</p>
<p class="t" id="c2l3" style="left:842.73px;top:881.70px;font-size:29px;transform:scaleX(0.9890)">Beige (RAL 1001)</p>
<p class="t" id="c2l4" style="left:850.92px;top:926.70px;font-size:29px;transform:scaleX(1.0120)">Noir (RAL 9005)</p>
<h2 class="t b" id="h3" style="left:1377.76px;top:706.12px;font-size:35px;transform:scaleX(1.0640)">Convient pour</h2>
<p class="t" id="c3l1" style="left:1320.58px;top:791.70px;font-size:29px;transform:scaleX(1.0532)">Revêtements jusqu'à 4 mm</p>
<p class="t" id="c3l2" style="left:1320.60px;top:836.70px;font-size:29px;transform:scaleX(1.0424)">Revêtement de sol design /</p>
<p class="t" id="c3l3" style="left:1328.11px;top:881.70px;font-size:29px;transform:scaleX(1.0377)">LVT Dryback, revêtements</p>
<p class="t" id="c3l4" style="left:1322.54px;top:926.70px;font-size:29px;transform:scaleX(1.0437)">de sol textiles et élastiques</p>
<p class="t d" id="d94" style="left:461.53px;top:509.81px;font-size:46px;transform:scaleX(1.0608)">94</p>
<p class="t d" id="d45" style="left:957.86px;top:460.56px;font-size:46px;transform:scaleX(0.9967)">45</p>
<p class="t d" id="d41" style="left:867.94px;top:363.06px;font-size:46px;transform:scaleX(0.9072)">41</p>
<p class="t d" id="d10" style="left:655.34px;top:329.81px;font-size:46px;transform:scaleX(0.9924)">10</p>
<p class="t d" id="d4" style="left:522.83px;top:374.81px;font-size:46px;transform:scaleX(1.0318)">4</p>
</body></html>
